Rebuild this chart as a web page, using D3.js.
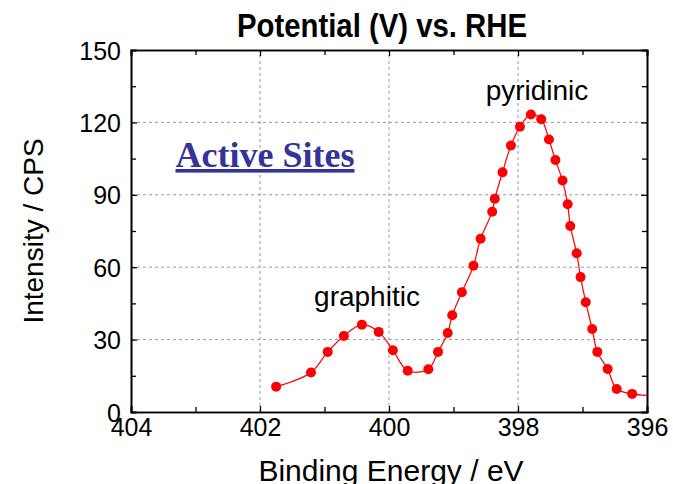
<!DOCTYPE html>
<html>
<head>
<meta charset="utf-8">
<script src="https://cdn.jsdelivr.net/npm/d3@7"></script>
<style>
  body { margin: 0; background: #fff; }
  svg { display: block; }
</style>
</head>
<body>
<svg id="chart"></svg>
<script>
// Measured N 1s points (binding energy in eV, intensity in CPS)
const energy = [401.75, 401.21, 400.95, 400.70, 400.42, 400.16, 399.94, 399.71, 399.39, 399.24,
                399.09, 399.02, 398.87, 398.69, 398.58, 398.40, 398.36, 398.24, 398.11, 397.97,
                397.80, 397.64, 397.52, 397.42, 397.31, 397.23, 397.19, 397.09, 397.03, 396.95,
                396.85, 396.77, 396.61, 396.47, 396.23];
const intensity = [10.5, 16.4, 24.9, 31.5, 36.2, 33.2, 25.6, 17.1, 17.7, 24.9,
                   32.7, 40.1, 49.6, 60.6, 71.8, 83.0, 88.4, 99.3, 110.4, 118.2,
                   123.3, 121.3, 112.9, 104.4, 95.9, 86.1, 77.1, 65.8, 55.9, 45.5,
                   34.4, 24.9, 17.8, 9.5, 7.5];
// the fitted line runs on past the last marker to the frame
const tailEnergy = [395.95];
const tailIntensity = [6.8];

const xTicks = [404, 402, 400, 398, 396];
const xMinor = [403, 401, 399, 397];
const yTicks = [0, 30, 60, 90, 120, 150];
const yMinor = [15, 45, 75, 105, 135];

const width = 673, height = 484;
const margin = { top: 50, right: 26, bottom: 72, left: 131 };

const svg = d3.select("#chart")
    .attr("width", width)
    .attr("height", height);

const x = d3.scaleLinear().domain([404, 396]).range([margin.left, width - margin.right]);
const y = d3.scaleLinear().domain([0, 150]).range([height - margin.bottom, margin.top]);

const font = "Liberation Sans, Arial, sans-serif";

// Grid lines (dashed)
const grid = svg.append("g")
    .attr("stroke", "#9a9a9a")
    .attr("stroke-width", 1)
    .attr("stroke-dasharray", "3,3");
grid.selectAll(".gx")
    .data(xTicks.slice(1, -1))
    .join("line")
    .attr("x1", d => x(d)).attr("x2", d => x(d))
    .attr("y1", y(0)).attr("y2", y(150));
grid.selectAll(".gy")
    .data(yTicks.slice(1, -1))
    .join("line")
    .attr("x1", x(404)).attr("x2", x(396))
    .attr("y1", d => y(d)).attr("y2", d => y(d));

// Axes with inward ticks on all four sides
const tickLen = 6, minorLen = 5;
const xBottom = svg.append("g").attr("transform", `translate(0,${y(0)})`)
    .call(d3.axisBottom(x).tickValues(xTicks).tickSize(-tickLen).tickPadding(8).tickFormat(d3.format("d")));
const xTop = svg.append("g").attr("transform", `translate(0,${y(150)})`)
    .call(d3.axisTop(x).tickValues(xTicks).tickSize(-tickLen).tickFormat(""));
const yLeft = svg.append("g").attr("transform", `translate(${x(404)},0)`)
    .call(d3.axisLeft(y).tickValues(yTicks).tickSize(-tickLen).tickPadding(10).tickFormat(d3.format("d")));
const yRight = svg.append("g").attr("transform", `translate(${x(396)},0)`)
    .call(d3.axisRight(y).tickValues(yTicks).tickSize(-tickLen).tickFormat(""));

// minor ticks
svg.append("g").attr("transform", `translate(0,${y(0)})`)
    .call(d3.axisBottom(x).tickValues(xMinor).tickSize(-minorLen).tickFormat(""));
svg.append("g").attr("transform", `translate(0,${y(150)})`)
    .call(d3.axisTop(x).tickValues(xMinor).tickSize(-minorLen).tickFormat(""));
svg.append("g").attr("transform", `translate(${x(404)},0)`)
    .call(d3.axisLeft(y).tickValues(yMinor).tickSize(-minorLen).tickFormat(""));
svg.append("g").attr("transform", `translate(${x(396)},0)`)
    .call(d3.axisRight(y).tickValues(yMinor).tickSize(-minorLen).tickFormat(""));

svg.selectAll(".domain").attr("stroke", "#000").attr("stroke-width", 1.6);
svg.selectAll(".tick line").attr("stroke", "#000").attr("stroke-width", 1.3);
svg.selectAll(".tick text")
    .attr("font-family", font)
    .attr("font-size", 25)
    .attr("fill", "#000");
xBottom.selectAll(".tick text").attr("dy", "0.62em");
yLeft.selectAll(".tick text").attr("dy", "0.36em");

// Data line and markers
svg.append("defs").append("clipPath").attr("id", "plotClip")
    .append("rect")
    .attr("x", x(404)).attr("y", y(150))
    .attr("width", x(396) - x(404)).attr("height", y(0) - y(150));

const lineData = energy.map((e, i) => [e, intensity[i]])
    .concat(tailEnergy.map((e, i) => [e, tailIntensity[i]]));

const line = d3.line()
    .x(d => x(d[0]))
    .y(d => y(d[1]))
    .curve(d3.curveCatmullRom.alpha(0.5));

svg.append("path")
    .datum(lineData)
    .attr("clip-path", "url(#plotClip)")
    .attr("fill", "none")
    .attr("stroke", "#ff0000")
    .attr("stroke-width", 1.2)
    .attr("d", line);

svg.append("g")
    .attr("fill", "#ff0000")
    .selectAll("circle")
    .data(energy)
    .join("circle")
    .attr("cx", d => x(d))
    .attr("cy", (d, i) => y(intensity[i]))
    .attr("r", 5);

// Title
svg.append("text")
    .attr("x", 382).attr("y", 37)
    .attr("text-anchor", "middle")
    .attr("font-family", font)
    .attr("font-weight", "bold")
    .attr("font-size", 33)
    .attr("textLength", 290)
    .attr("lengthAdjust", "spacingAndGlyphs")
    .text("Potential (V) vs. RHE");

// Axis titles
svg.append("text")
    .attr("x", 391).attr("y", 481)
    .attr("text-anchor", "middle")
    .attr("font-family", font)
    .attr("font-size", 30)
    .text("Binding Energy / eV");

svg.append("text")
    .attr("transform", `translate(43,${(y(0) + y(150)) / 2}) rotate(-90)`)
    .attr("text-anchor", "middle")
    .attr("font-family", font)
    .attr("font-size", 28)
    .text("Intensity / CPS");

// Peak annotations
svg.append("text")
    .attr("x", 537).attr("y", 100)
    .attr("text-anchor", "middle")
    .attr("font-family", font)
    .attr("font-size", 28)
    .text("pyridinic");

svg.append("text")
    .attr("x", 367).attr("y", 306)
    .attr("text-anchor", "middle")
    .attr("font-family", font)
    .attr("font-size", 28)
    .text("graphitic");

// Active Sites label
svg.append("text")
    .attr("x", 265).attr("y", 167)
    .attr("text-anchor", "middle")
    .attr("font-family", "Liberation Serif, Times New Roman, serif")
    .attr("font-weight", "bold")
    .attr("font-size", 36)
    .attr("fill", "#333399")
    .attr("text-decoration", "underline")
    .text("Active Sites");
</script>
</body>
</html>
